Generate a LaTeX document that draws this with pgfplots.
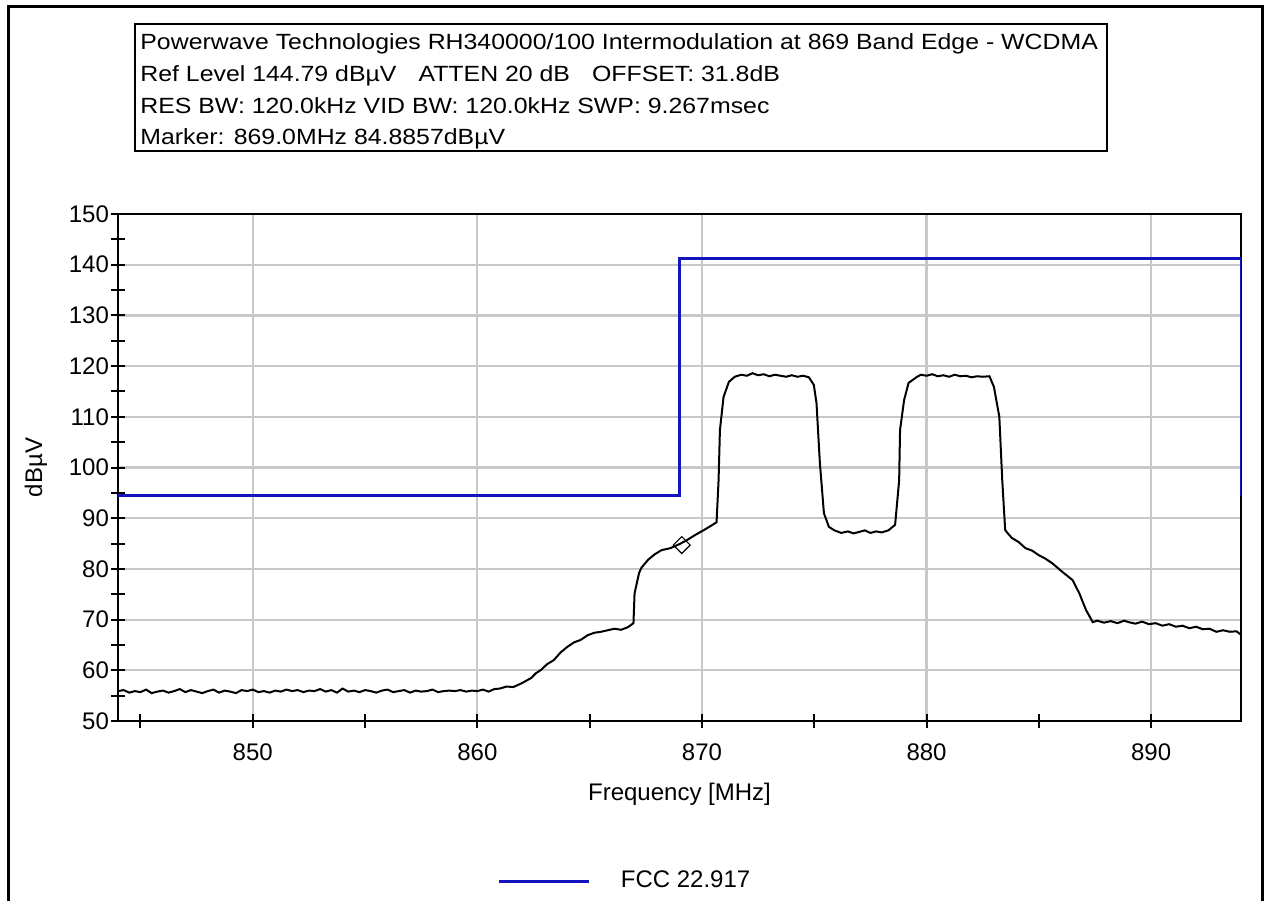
\documentclass[border=0pt]{standalone}
\usepackage{fontspec}
\setmainfont{Liberation Sans}
\newfontfamily\hdrfont[FakeStretch=1.13]{Liberation Sans}
\usepackage{pgfplots}
\pgfplotsset{compat=1.18}
\definecolor{fccblue}{RGB}{20,20,190}
\definecolor{gridgray}{RGB}{200,200,200}
\begin{document}
\begin{tikzpicture}
% page: 1268x901 px, 1px = 0.5pt, origin top-left
\path[use as bounding box] (0pt,0pt) rectangle (634pt,-450.5pt);
\draw[line width=1.5pt] (4pt,-450.5pt) -- (4pt,-3pt) -- (631pt,-3pt) -- (631pt,-450.5pt);
% header box
\draw[line width=1pt] (67.5pt,-12pt) rectangle (553.5pt,-75.5pt);
\begin{scope}[every node/.style={anchor=base west,inner sep=0pt,font=\hdrfont\fontsize{11}{13}\selectfont}]
\node at (70pt,-24.5pt) {Powerwave Technologies RH340000/100 Intermodulation at 869 Band Edge - WCDMA};
\node at (70pt,-40.8pt) {Ref Level 144.79 dBµV\quad ATTEN 20 dB\quad OFFSET: 31.8dB};
\node at (70pt,-56.8pt) {RES BW: 120.0kHz\ VID BW: 120.0kHz\ SWP: 9.267msec};
\node at (70pt,-72.3pt) {Marker: 869.0MHz\ 84.8857dBµV};
\end{scope}
\begin{axis}[
  at={(59pt,-360.5pt)}, anchor=south west,
  scale only axis, width=561.5pt, height=253.5pt,
  xmin=844, xmax=894, ymin=50, ymax=150,
  xtick={850,860,870,880,890}, minor xtick={845,855,865,875,885},
  ytick={50,60,...,150}, minor ytick={55,65,...,145},
  xtick pos=bottom, ytick pos=left,
  tick align=center,
  major tick length=7pt, minor tick length=7pt,
  every tick/.style={black,line width=1pt},
  axis line style={line width=1pt},
  xmajorgrids, ymajorgrids,
  major grid style={gridgray,line width=1.1pt},
  /pgf/number format/assume math mode=true,
  /pgf/number format/1000 sep={},
  tick label style={font=\fontsize{12}{14}\selectfont},
  xticklabel style={yshift=-4.5pt},
  yticklabel style={xshift=2.5pt},
  xlabel={Frequency [MHz]},
  xlabel style={font=\fontsize{12}{14}\selectfont,at={(axis description cs:0.5,0)},anchor=base,yshift=-39.75pt},
  ylabel={dBµV},
  ylabel style={font=\fontsize{12}{14}\selectfont,at={(axis description cs:-0.073,0.5)},anchor=center},
  legend style={draw=none,fill=none,at={(axis description cs:0.3375,-0.3156)},anchor=west,
    inner sep=0pt,font=\fontsize{12}{14}\selectfont},
  legend image code/.code={\draw[#1,line width=1.5pt] (0pt,0pt) -- (45pt,0pt);\path[draw=none] (0pt,0pt) -- (59pt,0pt);},
  legend cell align=left,
]
% measured trace
\addplot[black,line width=1pt,forget plot] coordinates {
(844.0,55.9) (844.25,56.1) (844.5,55.6) (844.75,55.9) (845.0,55.7) (845.25,56.2)
(845.5,55.5) (845.75,55.8) (846.0,56.0) (846.25,55.6) (846.5,55.9) (846.75,56.3)
(847.0,55.7) (847.25,56.1) (847.5,55.8) (847.75,55.5) (848.0,55.9) (848.25,56.2)
(848.5,55.6) (848.75,56.0) (849.0,55.8) (849.25,55.5) (849.5,56.1) (849.75,55.9)
(850.0,56.2) (850.25,55.7) (850.5,55.9) (850.75,55.6) (851.0,56.0) (851.25,55.8)
(851.5,56.2) (851.75,55.9) (852.0,56.1) (852.25,55.7) (852.5,56.0) (852.75,55.9)
(853.0,56.3) (853.25,55.8) (853.5,56.1) (853.75,55.6) (854.0,56.4) (854.25,55.8)
(854.5,56.0) (854.75,55.7) (855.0,56.1) (855.25,55.9) (855.5,55.6) (855.75,56.0)
(856.0,56.2) (856.25,55.7) (856.5,55.9) (856.75,56.1) (857.0,55.6) (857.25,56.0)
(857.5,55.8) (857.75,55.9) (858.0,56.2) (858.25,55.7) (858.5,55.9) (858.75,56.0)
(859.0,55.9) (859.25,56.1) (859.5,55.8) (859.75,56.0) (860.0,55.9) (860.25,56.2)
(860.5,55.8) (860.75,56.3) (861.0,56.4) (861.3,56.8) (861.6,56.7) (861.95,57.4)
(862.2,58.0) (862.4,58.5) (862.6,59.4) (862.84,60.1) (863.1,61.2) (863.4,62.0)
(863.7,63.5) (864.0,64.6) (864.3,65.5) (864.6,66.0) (864.9,66.9) (865.2,67.4)
(865.5,67.6) (865.8,67.9) (866.1,68.2) (866.4,68.0) (866.7,68.5) (866.95,69.3)
(867.0,75.2) (867.2,79.2) (867.3,80.2) (867.6,81.8) (867.9,82.9) (868.2,83.7)
(868.6,84.1) (869.0,84.9) (869.3,85.6) (869.7,86.7) (870.1,87.7) (870.4,88.5)
(870.65,89.2) (870.74,97.5) (870.8,107.4) (870.96,113.9) (871.2,116.9) (871.46,117.9)
(871.75,118.3) (872.0,118.1) (872.25,118.6) (872.5,118.2) (872.75,118.4) (873.0,118.0)
(873.25,118.3) (873.5,118.1) (873.75,117.9) (874.0,118.2) (874.25,117.9) (874.5,118.1)
(874.76,117.8) (874.98,116.3) (875.1,112.7) (875.25,100.9) (875.43,91.0) (875.65,88.3)
(875.9,87.6) (876.2,87.1) (876.5,87.4) (876.75,87.0) (877.0,87.3) (877.25,87.6)
(877.5,87.1) (877.75,87.4) (878.0,87.2) (878.3,87.6) (878.6,88.7) (878.78,97.5)
(878.82,107.4) (879.0,113.3) (879.2,116.7) (879.58,117.9) (879.75,118.3) (880.0,118.1)
(880.25,118.4) (880.5,118.0) (880.75,118.2) (881.0,117.9) (881.25,118.3) (881.5,118.0)
(881.75,118.1) (882.0,117.8) (882.25,118.0) (882.5,117.9) (882.8,118.0) (883.0,115.9)
(883.24,110.0) (883.37,97.5) (883.5,87.7) (883.6,87.1) (883.8,86.1) (884.1,85.3)
(884.4,84.1) (884.7,83.6) (885.0,82.7) (885.3,82.0) (885.6,81.1) (886.05,79.4)
(886.5,77.8) (886.8,75.2) (887.1,71.9) (887.4,69.5) (887.6,69.8) (887.9,69.4)
(888.2,69.7) (888.5,69.3) (888.8,69.8) (889.0,69.5) (889.3,69.2) (889.6,69.6)
(889.9,69.1) (890.2,69.3) (890.5,68.8) (890.8,69.1) (891.1,68.6) (891.4,68.8)
(891.7,68.3) (892.0,68.6) (892.3,68.1) (892.6,68.2) (892.9,67.6) (893.2,67.9)
(893.5,67.6) (893.8,67.7) (894.0,67.0)
};
% marker
\addplot[black,line width=0.6pt,only marks,mark=square,mark size=3pt,mark options={rotate=45},forget plot]
  coordinates {(869.1,84.7)};
% limit line
\addplot[fccblue,line width=1.5pt] coordinates {
(844,94.4) (869,94.4) (869,141.3) (894,141.3) (894,94.4)
};
\addlegendentry{FCC 22.917}
\end{axis}
\end{tikzpicture}
\end{document}
